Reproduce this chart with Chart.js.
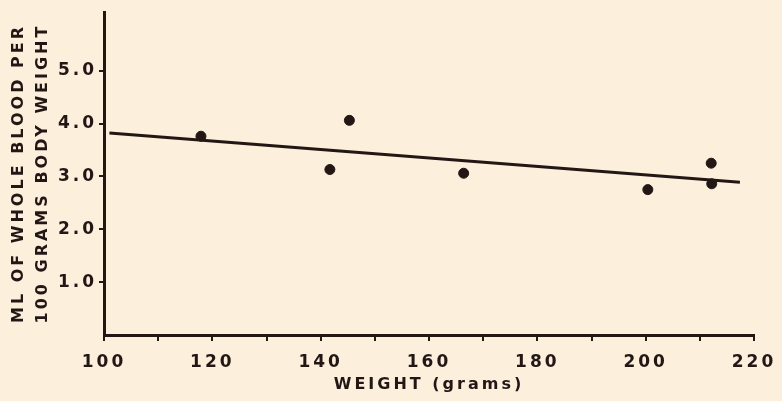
<!DOCTYPE html>
<html>
<head>
<meta charset="utf-8">
<script src="https://cdn.jsdelivr.net/npm/chart.js@4/dist/chart.umd.min.js"></script>
<style>
  html, body { margin: 0; padding: 0; background: #fcefdc; }
  canvas { display: block; }
</style>
</head>
<body>
<canvas id="chart-blood" width="782" height="401"></canvas>
<script>
// ==================== DATOS ====================
const weights   = [117.9, 141.7, 145.3, 166.4, 200.4, 212.1, 212.2];
const bloodMl   = [3.76, 3.13, 4.06, 3.06, 2.75, 3.25, 2.86];
const fitX      = [101, 217.4];
const fitY      = [3.82, 2.89];
const yTicks    = [1, 2, 3, 4, 5];
const yTitle    = ['ML OF WHOLE BLOOD PER', '100 GRAMS BODY WEIGHT'];
const xTitle    = 'WEIGHT (grams)';

const ink  = '#221715';
const font = { family: 'DejaVu Sans', weight: 'bold', size: 17 };

// letter spacing of the old lettering guide
const spacing = {
    id: 'spacing',
    beforeDraw: chart => { chart.ctx.letterSpacing = '3px'; }
};

// ==================== GRÁFICO ====================
function drawChart() {
    const ctx = document.getElementById('chart-blood').getContext('2d');

    const points = weights.map((w, i) => ({ x: w, y: bloodMl[i] }));
    const line   = fitX.map((x, i) => ({ x, y: fitY[i] }));

    window.bloodChart = new Chart(ctx, {
        type: 'scatter',
        data: {
            datasets: [
                { type: 'line', data: line, borderColor: ink, borderWidth: 3, pointRadius: 0, fill: false },
                { data: points, backgroundColor: ink, borderColor: ink, pointRadius: 5, pointHoverRadius: 5 }
            ]
        },
        options: {
            responsive: false,
            animation: false,
            events: [],
            layout: { padding: { top: 12, right: 28, left: 0, bottom: 0 } },
            plugins: { legend: { display: false }, tooltip: { enabled: false } },
            scales: {
                x: {
                    type: 'linear', min: 100, max: 220,
                    border: { display: true, color: ink, width: 3 },
                    grid: { drawOnChartArea: false, drawTicks: true, tickLength: 6, color: ink, lineWidth: 2 },
                    ticks: {
                        stepSize: 10, color: ink, font, padding: 11, maxRotation: 0, autoSkip: false,
                        callback: v => (v % 20 === 0 ? String(v) : '')
                    },
                    title: { display: true, text: xTitle, color: ink, font: { ...font, size: 16 }, padding: { top: 0, bottom: 7 } },
                    afterFit: s => { s.height = 66; s.paddingLeft = 0; s.paddingRight = 0; }
                },
                y: {
                    type: 'linear', min: 0, max: 6.11,
                    border: { display: true, color: ink, width: 3 },
                    grid: { drawOnChartArea: false, drawTicks: true, tickLength: 5, color: ink, lineWidth: 2 },
                    afterBuildTicks: s => { s.ticks = yTicks.map(v => ({ value: v })); },
                    ticks: { color: ink, font, padding: 2, callback: v => v.toFixed(1) },
                    title: { display: true, text: yTitle, color: ink, font: { ...font, size: 16, lineHeight: 1.55 }, padding: { top: 6, bottom: 0 } },
                    afterFit: s => { s.width = 104; s.paddingTop = 0; s.paddingBottom = 0; }
                }
            }
        },
        plugins: [spacing]
    });
}

drawChart();
</script>
</body>
</html>
